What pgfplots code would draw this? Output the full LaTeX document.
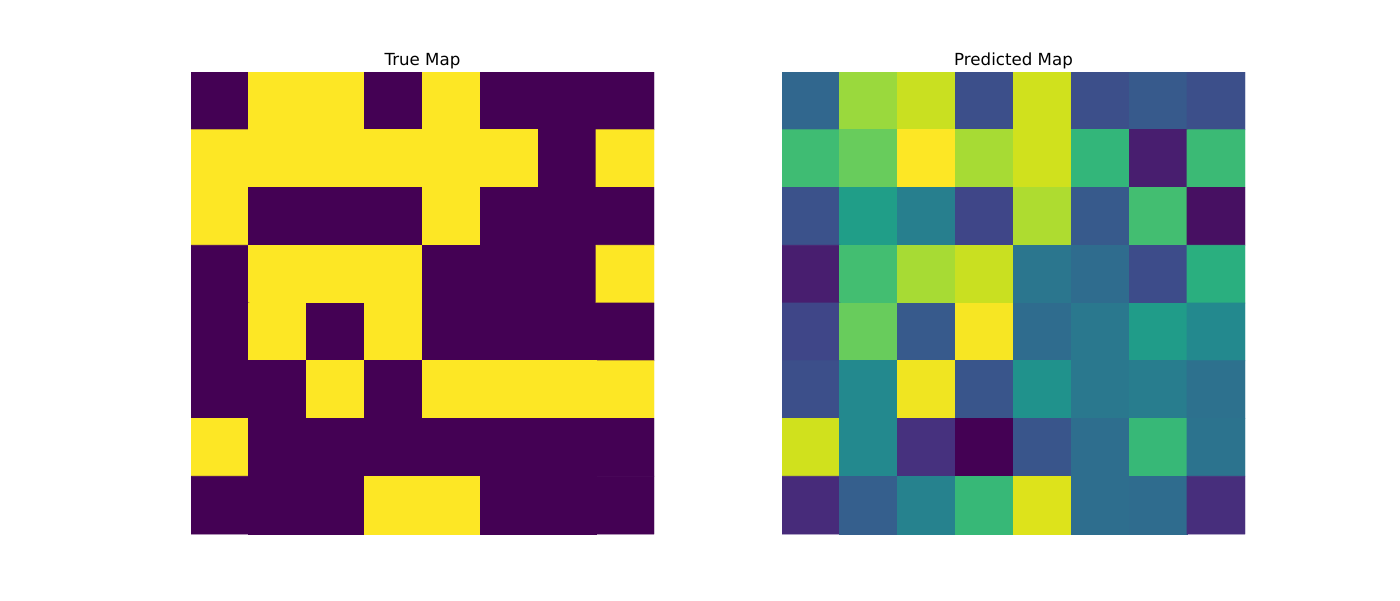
\documentclass[border=0pt]{standalone}
\usepackage{pgfplots}
\pgfplotsset{compat=1.18}
\usepackage{fontspec}
\setmainfont{DejaVu Sans}

% row 0 is the top row of each map
\pgfplotstableread{
x y c
0 0 0
1 0 1
2 0 1
3 0 0
4 0 1
5 0 0
6 0 0
7 0 0
0 1 1
1 1 1
2 1 1
3 1 1
4 1 1
5 1 1
6 1 0
7 1 1
0 2 1
1 2 0
2 2 0
3 2 0
4 2 1
5 2 0
6 2 0
7 2 0
0 3 0
1 3 1
2 3 1
3 3 1
4 3 0
5 3 0
6 3 0
7 3 1
0 4 0
1 4 1
2 4 0
3 4 1
4 4 0
5 4 0
6 4 0
7 4 0
0 5 0
1 5 0
2 5 1
3 5 0
4 5 1
5 5 1
6 5 1
7 5 1
0 6 1
1 6 0
2 6 0
3 6 0
4 6 0
5 6 0
6 6 0
7 6 0
0 7 0
1 7 0
2 7 0
3 7 1
4 7 1
5 7 0
6 7 0
7 7 0
}\truemap

\pgfplotstableread{
x y c
0 0 0.33
1 0 0.85
2 0 0.92
3 0 0.24
4 0 0.93
5 0 0.24
6 0 0.28
7 0 0.24
0 1 0.69
1 1 0.77
2 1 1.00
3 1 0.87
4 1 0.93
5 1 0.66
6 1 0.08
7 1 0.68
0 2 0.25
1 2 0.56
2 2 0.43
3 2 0.21
4 2 0.88
5 2 0.28
6 2 0.70
7 2 0.04
0 3 0.08
1 3 0.70
2 3 0.87
3 3 0.92
4 3 0.39
5 3 0.35
6 3 0.23
7 3 0.63
0 4 0.21
1 4 0.77
2 4 0.28
3 4 0.99
4 4 0.35
5 4 0.40
6 4 0.55
7 4 0.47
0 5 0.24
1 5 0.47
2 5 0.98
3 5 0.26
4 5 0.51
5 5 0.40
6 5 0.42
7 5 0.37
0 6 0.93
1 6 0.47
2 6 0.14
3 6 0.00
4 6 0.26
5 6 0.36
6 6 0.67
7 6 0.38
0 7 0.12
1 7 0.30
2 7 0.44
3 7 0.67
4 7 0.95
5 7 0.36
6 7 0.35
7 7 0.13
}\predmap

\pgfplotsset{
  mapax/.style={
    scale only axis, width=231.5pt, height=231pt,
    axis lines=none, ticks=none,
    xmin=-0.5, xmax=7.5, ymin=-0.5, ymax=7.5,
    y dir=reverse,
    colormap name=viridis,
    point meta min=0, point meta max=1,
    anchor=south west,
    title style={font=\fontsize{8.33}{10}\selectfont, at={(0.5,1)}, anchor=base, yshift=-2.6pt},
  },
}

\begin{document}
\begin{tikzpicture}
\path[fill=white] (0,0) rectangle (700pt,300pt);
\begin{axis}[mapax, at={(95.5pt,33pt)}, title={True Map}]
\addplot[matrix plot*, mesh/cols=8, point meta=explicit] table[x=x, y=y, meta=c] {\truemap};
\end{axis}
\begin{axis}[mapax, at={(391pt,33pt)}, title={Predicted Map}]
\addplot[matrix plot*, mesh/cols=8, point meta=explicit] table[x=x, y=y, meta=c] {\predmap};
\end{axis}
\end{tikzpicture}
\end{document}
